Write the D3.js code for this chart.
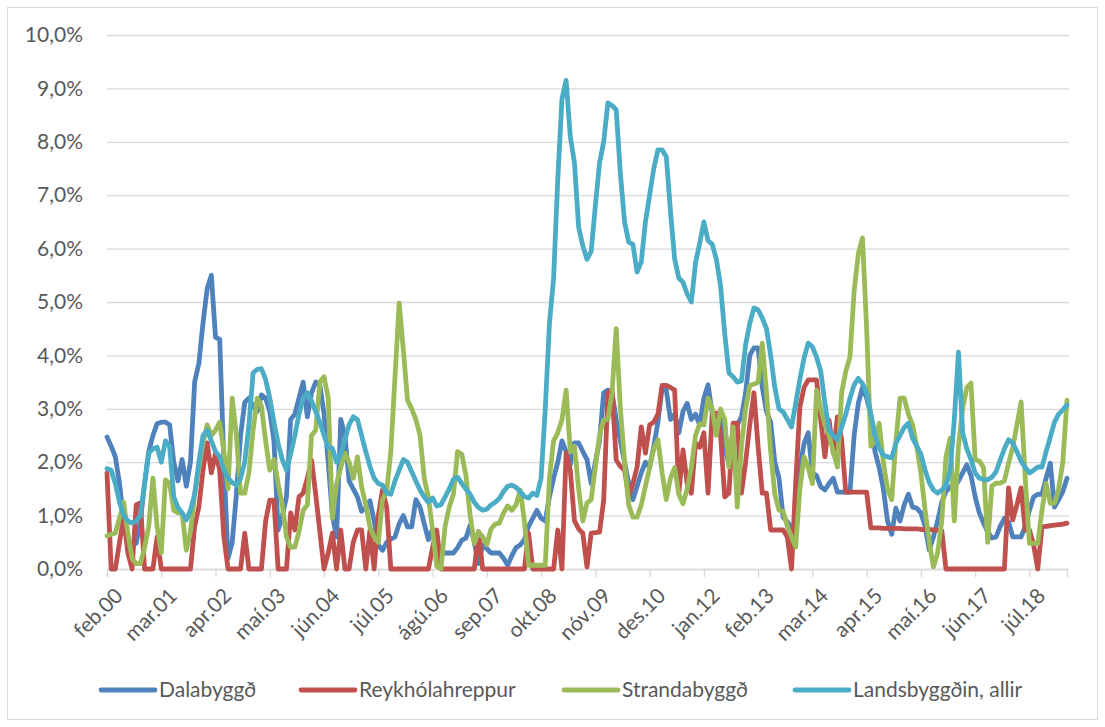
<!DOCTYPE html>
<html>
<head>
<meta charset="utf-8">
<script src="https://cdn.jsdelivr.net/npm/d3@7"></script>
<style>
  body { margin: 0; background: #fff; }
  text { font-family: Lato, "Open Sans", sans-serif; fill: #595959; }
</style>
</head>
<body>
<div id="chart"></div>
<script>
// Mánuðir og upphaf tímaraðar (feb. 2000)
const manudir = ["jan", "feb", "mar", "apr", "maí", "jún", "júl", "ágú", "sep", "okt", "nóv", "des"];
const upphafsAr = 2000;
const upphafsManudur = 1;
const fjoldi = 231;

// Atvinnuleysi í % eftir mánuðum
const dalabyggd = [
  2.47,2.3,2.1,1.6,0.9,0.52,0.45,0.48,0.9,1.6,
  2.2,2.5,2.72,2.75,2.75,2.7,2.0,1.65,2.05,1.55,
  2.0,3.5,3.85,4.6,5.25,5.5,4.34,4.3,2.0,0.2,
  0.5,1.4,2.5,3.12,3.2,3.05,2.95,3.26,3.2,2.95,
  2.4,0.73,1.0,1.35,2.8,2.9,3.2,3.5,2.85,3.3,
  3.5,3.45,2.9,2.0,1.0,0.6,2.8,2.5,1.65,1.5,
  1.35,1.08,1.15,1.28,0.9,0.45,0.35,0.5,0.56,0.6,
  0.85,1.0,0.79,0.79,1.3,1.16,0.85,0.55,0.75,0.5,
  0.3,0.3,0.3,0.3,0.4,0.54,0.58,0.82,0.5,0.1,
  0.45,0.38,0.3,0.3,0.3,0.2,0.07,0.25,0.4,0.45,
  0.55,0.8,0.95,1.1,0.95,0.9,1.35,1.7,2.0,2.4,
  2.2,1.95,2.36,2.36,2.2,2.05,1.6,2.0,2.4,3.3,
  3.35,3.3,2.8,2.4,2.0,1.6,1.3,1.55,1.8,2.0,
  1.9,2.3,2.75,3.4,3.35,2.8,2.9,2.55,2.95,3.1,
  2.8,2.9,2.7,3.2,3.45,2.92,2.88,2.85,2.3,1.95,
  2.6,2.7,2.85,3.3,4.0,4.14,4.14,3.4,2.95,2.75,
  2.0,1.7,0.97,0.88,0.78,0.67,1.9,2.35,2.55,1.8,
  1.75,1.54,1.48,1.6,1.7,1.44,1.44,1.44,1.44,2.5,
  3.1,3.4,3.2,2.9,2.2,1.9,1.5,0.9,0.65,1.14,
  0.9,1.2,1.4,1.16,1.14,1.05,0.8,0.36,0.6,0.9,
  1.25,1.45,1.54,1.54,1.65,1.8,1.95,1.75,1.35,1.05,
  0.86,0.7,0.58,0.6,0.8,0.95,0.88,0.6,0.6,0.6,
  0.8,1.1,1.35,1.4,1.4,1.7,1.98,1.16,1.3,1.45,
  1.7
];
const reykholahreppur = [
  1.8,0,0,0.5,0.97,0.3,0,1.2,1.24,0,
  0,0,0.6,0,0,0,0,0,0,0,
  0,0.8,1.16,1.85,2.36,1.8,2.17,1.85,0.6,0,
  0,0,0,0.67,0,0,0,0,0.9,1.29,
  1.29,0,0,0,1.05,0.73,1.35,1.42,1.7,2.04,
  1.4,0.7,0,0.3,0.67,0,0.73,0,0,0.5,
  0.73,0.73,0,0.73,0,1.0,1.48,1.16,0,0,
  0,0,0,0,0,0,0,0,0.4,0.73,
  0,0,0,0,0,0,0,0,0,0.7,
  0,0,0,0,0,0,0,0,0,0,
  0,0.67,0,0,0,0,0,0,0.73,0,
  2.17,1.85,0.9,0.75,0.67,0.04,0.67,0.68,0.69,1.29,
  3.3,3.35,2.04,1.92,1.85,1.35,1.6,1.91,2.66,2.17,
  2.7,2.75,2.9,3.44,3.44,3.4,3.35,1.42,2.23,1.6,
  1.42,2.36,2.28,2.55,1.42,2.92,2.92,2.5,1.35,1.42,
  2.73,2.73,1.42,2.0,2.7,3.3,2.28,1.42,1.42,0.73,
  0.73,0.73,0.73,0.6,0,1.61,3.03,3.4,3.54,3.54,
  3.54,2.79,2.1,2.79,2.17,2.85,2.42,1.44,1.44,1.44,
  1.44,1.44,1.44,0.77,0.77,0.77,0.76,0.76,0.76,0.76,
  0.76,0.75,0.75,0.75,0.75,0.74,0.74,0.74,0.73,0.73,
  0.72,0,0,0,0,0,0,0,0,0,
  0,0,0,0,0,0,1.52,0.92,1.2,1.52,
  0.73,0.73,0.45,0,0.79,0.8,0.81,0.82,0.83,0.84,
  0.86
];
const strandabyggd = [
  0.62,0.65,0.67,0.95,1.25,0.67,0.2,0.1,0.1,0.4,
  0.8,1.7,0.8,0.3,1.67,1.6,1.1,1.05,1.05,0.35,
  0.7,1.4,1.9,2.35,2.7,2.5,2.6,2.75,2.2,1.5,
  3.2,2.5,1.42,1.42,1.8,2.6,3.2,3.05,2.4,1.85,
  2.05,1.6,1.2,0.6,0.41,0.41,0.7,1.1,1.2,2.5,
  2.6,3.5,3.6,3.2,0.95,1.6,1.9,2.17,2.0,1.7,
  2.1,1.54,1.2,0.78,0.6,0.5,1.3,1.45,2.2,3.6,
  4.98,4.1,3.16,3.0,2.8,2.5,1.7,1.35,0.73,0.05,
  0,0.8,1.16,1.4,2.2,2.15,1.75,1.0,0.48,0.7,
  0.6,0.45,0.75,0.84,0.86,1.05,1.18,1.1,1.2,1.48,
  0.9,0.07,0.07,0.07,0.07,0.07,1.7,2.4,2.55,2.8,
  3.35,2.2,2.3,1.5,0.9,1.24,1.3,1.91,2.5,2.79,
  2.8,3.3,4.5,3.0,2.0,1.2,0.97,0.97,1.2,1.55,
  1.9,2.25,2.42,1.8,1.3,1.7,1.9,1.4,1.22,1.5,
  1.9,2.5,2.72,2.7,3.2,3.0,2.5,3.0,2.8,1.91,
  2.66,1.16,2.3,3.0,3.44,3.46,3.5,4.23,3.3,2.2,
  1.4,1.1,1.08,0.8,0.6,0.41,1.5,2.1,1.9,1.6,
  3.35,3.0,2.7,2.5,2.2,1.91,3.3,3.7,3.97,5.2,
  5.9,6.2,4.5,2.3,2.4,2.73,2.0,1.5,1.3,2.4,
  3.2,3.2,2.9,2.7,2.3,1.8,1.1,0.5,0.04,0.3,
  0.9,2.1,2.45,0.9,2.3,3.0,3.4,3.48,2.05,2.02,
  1.9,0.5,1.55,1.61,1.61,1.65,1.98,2.28,2.7,3.13,
  1.7,0.48,0.48,0.48,1.1,1.6,1.23,1.23,1.5,2.0,
  3.16
];
const landsbyggdin = [
  1.88,1.85,1.6,1.25,1.0,0.9,0.86,0.9,1.0,1.6,
  2.17,2.25,2.28,2.0,2.4,2.3,1.35,1.15,1.05,0.92,
  1.1,1.4,2.0,2.5,2.6,2.4,2.2,2.1,1.85,1.7,
  1.62,1.57,1.7,2.0,2.7,3.67,3.74,3.75,3.55,3.2,
  2.75,2.35,2.05,1.85,2.15,2.5,2.9,3.2,3.3,3.15,
  2.95,2.75,2.5,2.28,2.26,2.0,2.15,2.42,2.7,2.85,
  2.8,2.5,2.2,1.92,1.7,1.6,1.57,1.42,1.4,1.65,
  1.85,2.05,2.0,1.82,1.65,1.48,1.35,1.25,1.33,1.18,
  1.2,1.35,1.5,1.68,1.72,1.6,1.5,1.4,1.25,1.15,
  1.1,1.12,1.2,1.25,1.32,1.45,1.55,1.57,1.53,1.45,
  1.36,1.33,1.42,1.38,1.7,3.0,4.6,5.45,7.3,8.8,
  9.15,8.1,7.6,6.4,6.05,5.8,5.95,6.8,7.6,8.0,
  8.73,8.68,8.6,7.4,6.5,6.12,6.08,5.56,5.75,6.5,
  7.0,7.5,7.85,7.85,7.72,6.7,5.8,5.45,5.37,5.15,
  5.0,5.73,6.1,6.5,6.15,6.08,5.8,5.3,4.4,3.67,
  3.6,3.5,3.52,4.2,4.6,4.89,4.85,4.7,4.5,4.0,
  3.4,3.0,2.94,2.8,2.66,3.1,3.55,3.95,4.23,4.16,
  3.97,3.7,3.1,2.6,2.5,2.42,2.65,2.9,3.2,3.45,
  3.57,3.47,3.3,2.9,2.5,2.26,2.13,2.1,2.08,2.35,
  2.5,2.65,2.73,2.45,2.3,2.15,1.85,1.62,1.48,1.42,
  1.48,1.56,1.85,2.8,4.06,2.55,2.25,2.05,1.8,1.7,
  1.68,1.67,1.72,1.82,2.04,2.25,2.42,2.36,2.2,2.02,
  1.9,1.8,1.85,1.91,1.91,2.2,2.47,2.75,2.9,2.98,
  3.07
];
const yTikk = [0,1,2,3,4,5,6,7,8,9,10];
const rodir = [
  { nafn: "Dalabyggð", gildi: dalabyggd, litur: "#4f81bd" },
  { nafn: "Reykhólahreppur", gildi: reykholahreppur, litur: "#c0504d" },
  { nafn: "Strandabyggð", gildi: strandabyggd, litur: "#9bbb59" },
  { nafn: "Landsbyggðin, allir", gildi: landsbyggdin, litur: "#4bacc6" }
];

// Flokkar: feb.00, mar.00, ...
const flokkar = d3.range(fjoldi).map(i => {
  const m = (upphafsManudur + i) % 12;
  const ar = upphafsAr + Math.floor((upphafsManudur + i) / 12);
  return manudir[m] + "." + String(ar % 100).padStart(2, "0");
});

const width = 1105, height = 727;
const vinstri = 107, haegri = 1067, efst = 35, nedst = 569;

const svg = d3.select("#chart").append("svg")
  .attr("width", width)
  .attr("height", height);

// Rammi utan um myndina
svg.append("rect")
  .attr("x", 7.5).attr("y", 7.5)
  .attr("width", 1090).attr("height", 712)
  .attr("fill", "none")
  .attr("stroke", "#d9d9d9");

const x = d3.scalePoint().domain(flokkar).range([vinstri, haegri]);
const y = d3.scaleLinear().domain([0, 10]).range([nedst, efst]);

// Hnitalínur og y-ás
const yAs = svg.append("g")
  .attr("transform", `translate(${vinstri},0)`)
  .call(d3.axisLeft(y).tickValues(yTikk).tickSize(-(haegri - vinstri + 2)).tickPadding(24)
    .tickFormat(d => d.toFixed(1).replace(".", ",") + "%"));
yAs.select(".domain").remove();
yAs.selectAll(".tick line").attr("stroke", "#d9d9d9").attr("stroke-width", 1.3);
yAs.selectAll(".tick text").style("font-size", "21px").attr("fill", "#595959");

// x-ás: merki á 13 mánaða fresti
const xTikk = flokkar.filter((d, i) => i % 13 === 0);
const xAs = svg.append("g")
  .attr("transform", `translate(0,${nedst})`)
  .call(d3.axisBottom(x).tickValues(xTikk).tickSize(8).tickFormat(""));
xAs.select(".domain").attr("stroke", "#d9d9d9").attr("stroke-width", 1.3);
xAs.selectAll(".tick line").attr("stroke", "#d9d9d9").attr("stroke-width", 1.3);

svg.append("g").selectAll("text")
  .data(xTikk)
  .join("text")
  .attr("transform", d => `translate(${x(d) + 6},${nedst + 17}) rotate(-45)`)
  .attr("text-anchor", "end")
  .attr("dy", "0.75em")
  .style("font-size", "21px")
  .text(d => d);

// Línur
const lina = d3.line()
  .x((d, i) => x(flokkar[i]))
  .y(d => y(d));

svg.append("g").selectAll("path")
  .data(rodir)
  .join("path")
  .attr("d", d => lina(d.gildi))
  .attr("fill", "none")
  .attr("stroke", d => d.litur)
  .attr("stroke-width", 4.8)
  .attr("stroke-linejoin", "round")
  .attr("stroke-linecap", "round");

// Skýringar
const skyringX = [101, 301, 564, 795];
const skyring = svg.append("g");
rodir.forEach((r, i) => {
  skyring.append("line")
    .attr("x1", skyringX[i]).attr("x2", skyringX[i] + 54)
    .attr("y1", 690).attr("y2", 690)
    .attr("stroke", r.litur)
    .attr("stroke-width", 4.8)
    .attr("stroke-linecap", "round");
  skyring.append("text")
    .attr("x", skyringX[i] + 58)
    .attr("y", 690)
    .attr("dy", "0.35em")
    .style("font-size", "21px")
    .text(r.nafn);
});
</script>
</body>
</html>
